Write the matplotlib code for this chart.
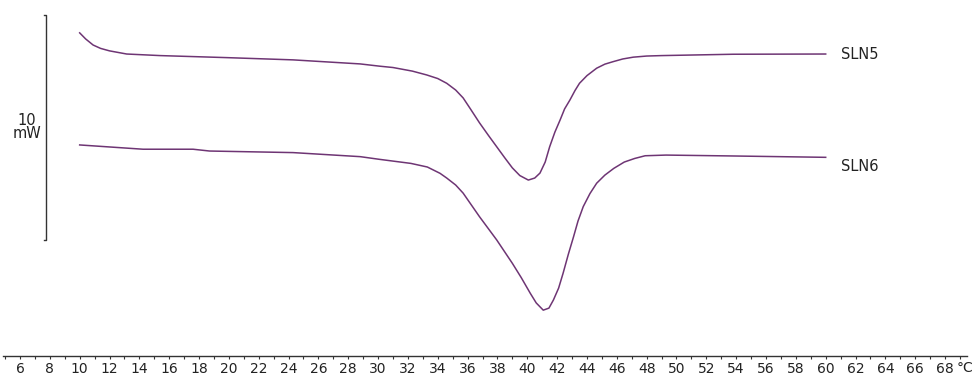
import numpy as np
import matplotlib.pyplot as plt
from matplotlib.ticker import MultipleLocator

# DSC curves: temperature (°C) and heat flow (mW, arbitrary offset)
t_sln5 = [10.0, 10.4, 10.9, 11.4, 12.0, 13.15, 15.4, 19.85, 24.3, 28.8, 30.1, 31.0, 32.3,
          33.26, 34.0, 34.6, 35.2, 35.7, 36.2, 36.8, 37.4, 37.95, 38.5, 39.0, 39.5, 40.07,
          40.5, 40.85, 41.2, 41.5, 41.85, 42.2, 42.5, 42.86, 43.2, 43.5, 44.0, 44.65, 45.2,
          45.75, 46.4, 47.1, 48.0, 49.0, 53.8, 60.0]
hf_sln5 = [14.36, 14.09, 13.82, 13.67, 13.56, 13.42, 13.35, 13.26, 13.16, 12.98, 12.88, 12.82, 12.66,
           12.49, 12.33, 12.12, 11.82, 11.47, 10.97, 10.36, 9.80, 9.30, 8.80, 8.36, 8.02, 7.82,
           7.91, 8.13, 8.62, 9.30, 9.95, 10.49, 10.98, 11.38, 11.80, 12.12, 12.46, 12.79, 12.97,
           13.08, 13.20, 13.28, 13.33, 13.35, 13.41, 13.42]

t_sln6 = [10.0, 14.25, 17.6, 18.7, 24.3, 28.8, 30.1, 32.2, 33.3, 34.15, 34.6, 35.2, 35.7,
          36.8, 37.95, 39.0, 39.6, 40.2, 40.6, 41.07, 41.45, 41.75, 42.1, 42.4, 42.75, 43.1,
          43.4, 43.75, 44.2, 44.65, 45.2, 45.8, 46.5, 47.2, 47.9, 49.3, 53.8, 60.0]
hf_sln6 = [9.38, 9.19, 9.19, 9.11, 9.04, 8.86, 8.74, 8.56, 8.40, 8.12, 7.91, 7.60, 7.24,
           6.19, 5.16, 4.12, 3.48, 2.79, 2.36, 2.04, 2.13, 2.49, 3.02, 3.68, 4.52, 5.30,
           6.00, 6.64, 7.22, 7.68, 8.04, 8.34, 8.62, 8.78, 8.90, 8.93, 8.89, 8.83]

series_names = ["SLN5", "SLN6"]
x_ticks = list(range(6, 70, 2))
scale_mw = 10

color = "#6e3574"
text_color = "#222222"

fig = plt.figure(figsize=(9.74, 3.77), dpi=100)
ax = fig.add_axes([0, 0, 1, 1])
ax.set_xlim(4.66, 69.94)
ax.set_ylim(-0.93, 15.82)

ax.plot(t_sln5, hf_sln5, color=color, lw=1.1, solid_joinstyle="round")
ax.plot(t_sln6, hf_sln6, color=color, lw=1.1, solid_joinstyle="round")

# curve labels at the right end
ax.text(61.0, hf_sln5[-1], series_names[0], fontsize=10.5, va="center", ha="left", color=text_color)
ax.text(61.0, hf_sln6[-1] - 0.4, series_names[1], fontsize=10.5, va="center", ha="left", color=text_color)

# temperature axis
for s in ["left", "right", "top"]:
    ax.spines[s].set_visible(False)
ax.spines["bottom"].set_position(("data", 0))
ax.spines["bottom"].set_bounds(4.85, 69.5)
ax.spines["bottom"].set_color("#333333")
ax.spines["bottom"].set_linewidth(1.0)
ax.set_xticks(x_ticks)
ax.set_xticklabels([str(t) for t in x_ticks])
ax.xaxis.set_minor_locator(MultipleLocator(1))
ax.tick_params(axis="x", which="both", direction="out", length=2.5, width=0.8,
               color="#333333", labelsize=10, pad=1.5, labelcolor=text_color)
ax.set_yticks([])
ax.text(68.75, -0.22, "°C", fontsize=10, ha="left", va="top", color=text_color)

# 10 mW scale bar
bar_x = 7.74
bar_top = 15.16
bar_bot = bar_top - scale_mw
ax.plot([bar_x - 0.15, bar_x, bar_x, bar_x - 0.15], [bar_top, bar_top, bar_bot, bar_bot],
        color="#333333", lw=1.0)
ax.text(6.47, (bar_top + bar_bot) / 2, f"{scale_mw}\nmW", fontsize=10.5, ha="center",
        va="center", linespacing=0.85, color=text_color)

fig.savefig("out.png", dpi=100)
